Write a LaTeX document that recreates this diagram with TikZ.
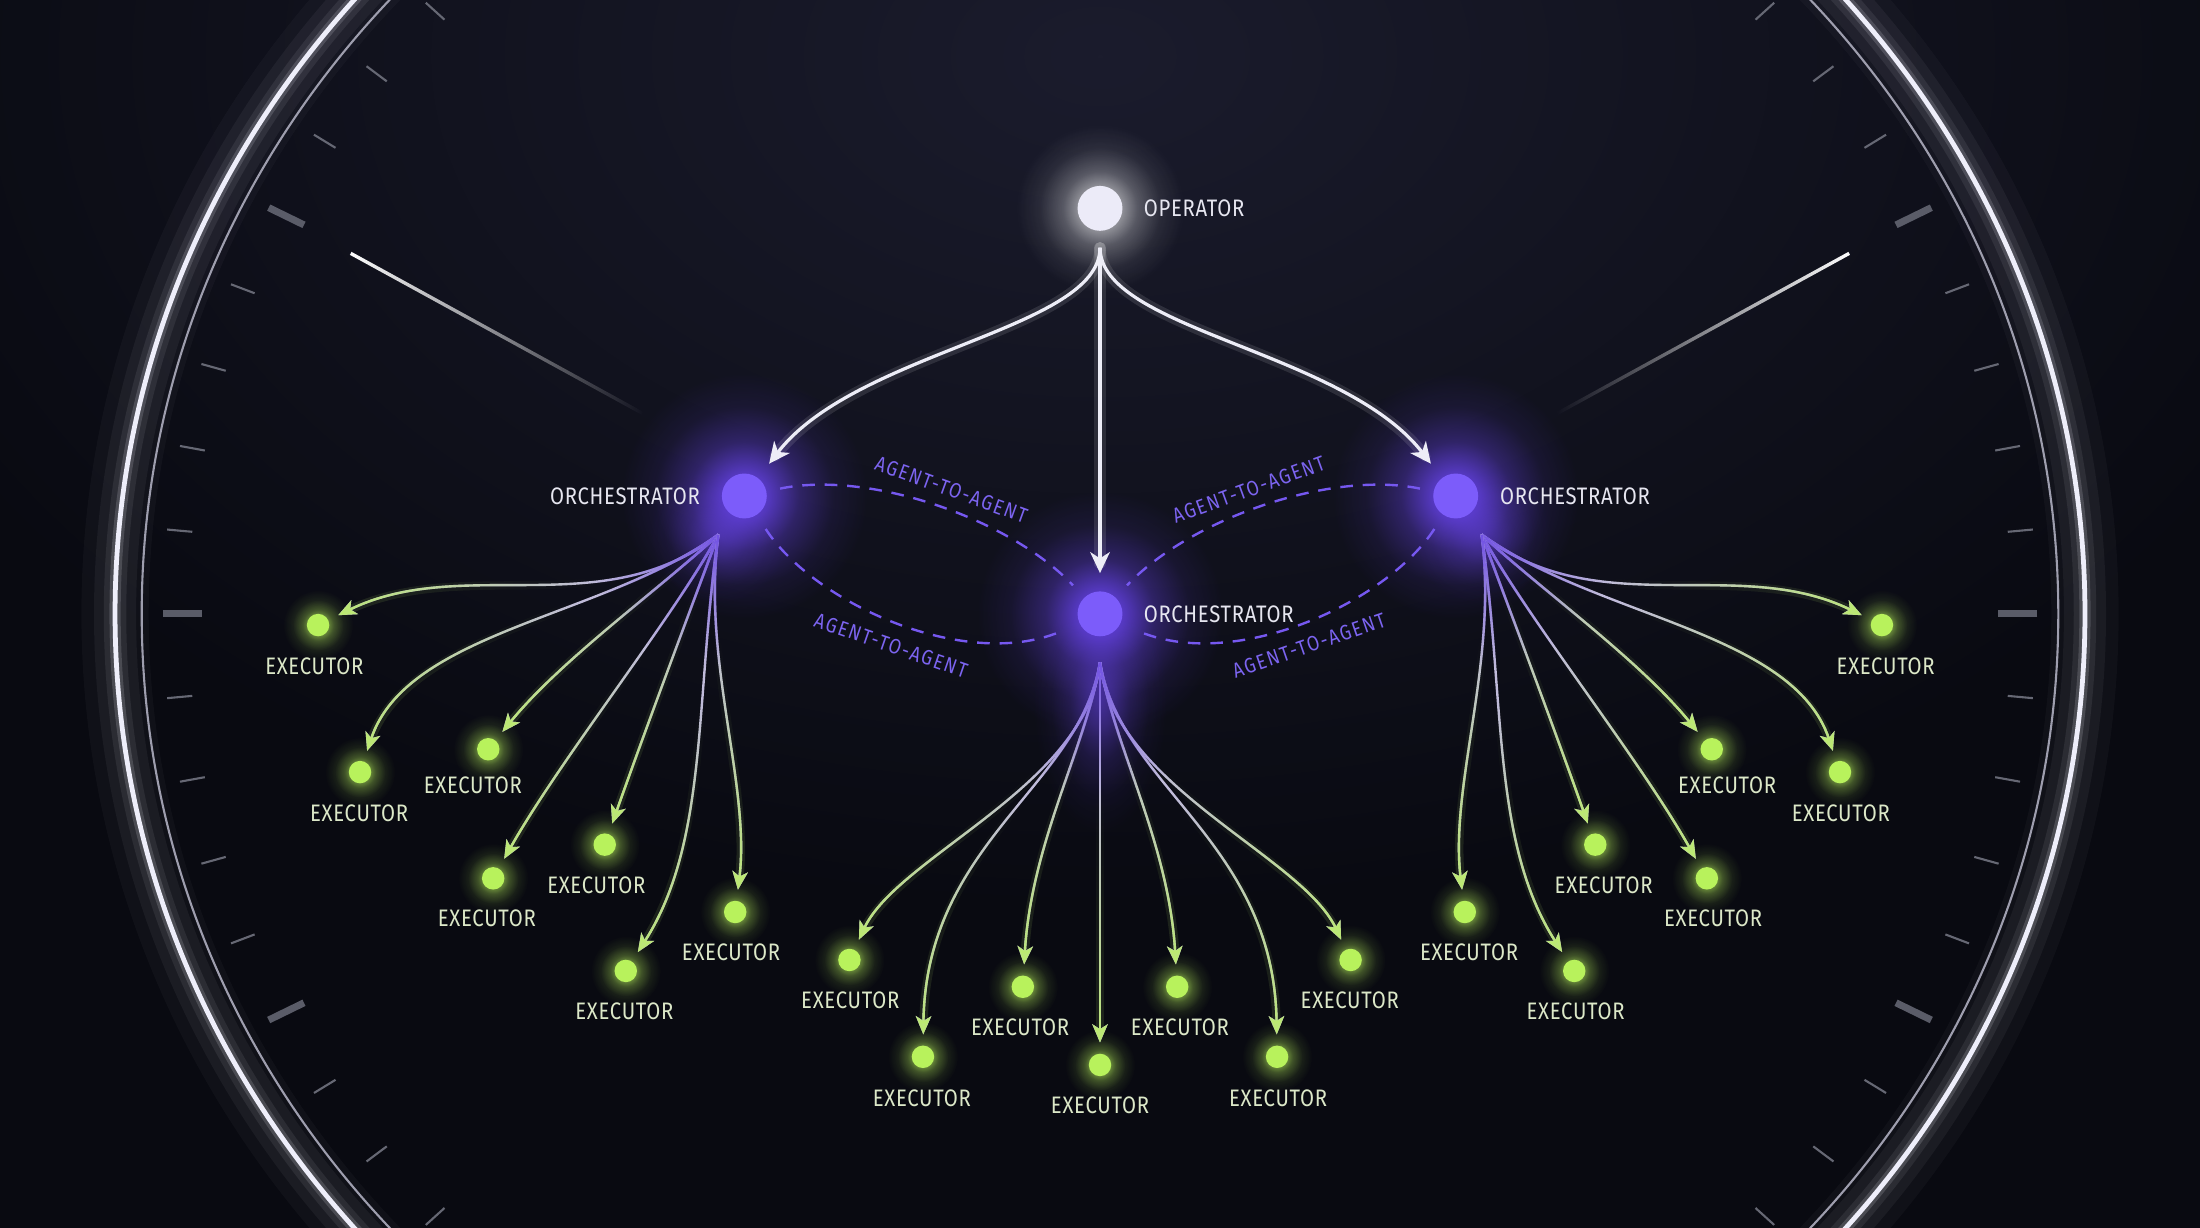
\documentclass[tikz,border=0pt]{standalone}
\usepackage{fontspec}
\usetikzlibrary{arrows.meta,calc,fadings}
\newfontfamily\lblfont{Fira Sans}[FakeStretch=0.85,LetterSpace=3]
\newfontfamily\agentfont{Fira Sans}[FakeStretch=0.85,LetterSpace=8]

\definecolor{bgc}{HTML}{090A11}
\definecolor{bgtop}{HTML}{1B1C2D}
\definecolor{ringc}{HTML}{EEEEFA}
\definecolor{ringin}{HTML}{9E9EAE}
\definecolor{tickc}{HTML}{666874}
\definecolor{tickmaj}{HTML}{5A5C68}
\definecolor{opfill}{HTML}{ECEBF8}
\definecolor{orchfill}{HTML}{7C5CFA}
\definecolor{orchglow}{HTML}{6A45F0}
\definecolor{dashc}{HTML}{7658F0}
\definecolor{agentc}{HTML}{7C64F0}
\definecolor{execfill}{HTML}{B8F25C}
\definecolor{execlbl}{HTML}{DCE8C8}
\definecolor{lblc}{HTML}{E6E6F0}
\definecolor{lav}{HTML}{C0BBDA}
\definecolor{limec}{HTML}{BCEB70}
\definecolor{purc}{HTML}{7252E4}
\definecolor{warr}{HTML}{EDEDF7}

\pgfdeclareradialshading{linshade}{\pgfpointorigin}{color(0bp)=(white); color(25bp)=(black); color(50bp)=(black)}
\pgfdeclarefading{linfade}{\pgfuseshading{linshade}}
\pgfdeclareradialshading{glowshade}{\pgfpointorigin}{color(0bp)=(white); color(5bp)=(white!75!black); color(11bp)=(white!35!black); color(18bp)=(white!10!black); color(25bp)=(black); color(50bp)=(black)}
\pgfdeclarefading{glowfade}{\pgfuseshading{glowshade}}
\pgfdeclarehorizontalshading{hshadeR}{100bp}{color(0bp)=(white); color(25bp)=(white); color(75bp)=(black); color(100bp)=(black)}
\pgfdeclarefading{fadeR}{\pgfuseshading{hshadeR}}
\pgfdeclarehorizontalshading{hshadeL}{100bp}{color(0bp)=(black); color(25bp)=(black); color(75bp)=(white); color(100bp)=(white)}
\pgfdeclarefading{fadeL}{\pgfuseshading{hshadeL}}

\pgfdeclarelayer{back}
\pgfdeclarelayer{glow}
\pgfdeclarelayer{edges}
\pgfsetlayers{back,glow,edges,main}

\tikzset{
 orch/.style={circle, fill=orchfill, minimum size=32pt, inner sep=0pt, outer sep=0pt},
 opnode/.style={circle, fill=opfill, minimum size=32pt, inner sep=0pt, outer sep=0pt},
 execnode/.style={circle, fill=execfill, minimum size=16pt, inner sep=0pt, outer sep=0pt},
 lbl/.style={text=lblc, font=\lblfont\fontsize{17}{17}\selectfont, inner sep=0pt},
 elbl/.style={text=execlbl, font=\lblfont\fontsize{17}{17}\selectfont, inner sep=0pt},
 agent/.style={text=agentc, font=\agentfont\fontsize{15}{15}\selectfont, inner sep=0pt},
 a2a/.style={draw=dashc, line width=1.7pt, dash pattern=on 9pt off 7pt},
 wline/.style={draw=warr, line width=2.3pt, -{Stealth[length=15pt,width=14pt,inset=4.5pt]}, shorten <=12pt, shorten >=13pt},
 wglowline/.style={draw=white, line width=8pt, opacity=0.11, shorten <=12pt, shorten >=20pt, line cap=round},
 cbase/.style={draw=lav, line width=1.7pt, shorten >=8pt, -{Stealth[length=13pt,width=11pt,inset=3.5pt]}},
 cgreen/.style={draw=limec, line width=1.7pt, shorten >=8pt, -{Stealth[length=13pt,width=11pt,inset=3.5pt]}, path fading=linfade, fit fading=false},
 cpurple/.style={draw=purc, line width=1.9pt, path fading=linfade, fit fading=false},
 cglow/.style={draw=limec, line width=6pt, opacity=0.14, shorten >=14pt, path fading=linfade, fit fading=false},
}

\newcommand\fanedge[4]{%
 \draw[cglow, fading transform={shift={(#4)},scale=8.0}] (#1) .. controls (#2) and (#3) .. (#4);
 \draw[cbase] (#1) .. controls (#2) and (#3) .. (#4);
 \draw[cgreen, fading transform={shift={(#4)},scale=8.0}] (#1) .. controls (#2) and (#3) .. (#4);
 \draw[cpurple, fading transform={shift={(#1)},scale=3.8}] (#1) .. controls (#2) and (#3) .. (#4);
}
\newcommand\opedge[4]{%
 \draw[wglowline] (#1) .. controls (#2) and (#3) .. (#4);
 \draw[wline] (#1) .. controls (#2) and (#3) .. (#4);
}

\begin{document}
\begin{tikzpicture}[x=1pt,y=-1pt]
\useasboundingbox (0,0) rectangle (1568,875);
\coordinate (C) at (784,437.5);

% ---------- nodes ----------
\node[opnode] (op) at (784,148.5) {};
\node[orch] (lo) at (530.5,353.5) {};
\node[orch] (co) at (784,437.5) {};
\node[orch] (ro) at (1037.5,353.5) {};
\node[lbl, anchor=west] (opt) at (815,148.5) {OPERATOR};
\node[lbl, anchor=east] (lot) at (499,353.5) {ORCHESTRATOR};
\node[lbl, anchor=west] (cot) at (815,437.5) {ORCHESTRATOR};
\node[lbl, anchor=west] (rot) at (1069,353.5) {ORCHESTRATOR};

\coordinate (ls) at (512,381);
\coordinate (cs) at (784,472);
\coordinate (rs) at (1056,381);

\node[execnode] (l1) at (226.7,445.5) {};
\node[execnode] (l2) at (256.6,550.3) {};
\node[execnode] (l3) at (348,534) {};
\node[execnode] (l4) at (351.5,626) {};
\node[execnode] (l5) at (431,602) {};
\node[execnode] (l6) at (446,692) {};
\node[execnode] (l7) at (524,650) {};
\node[execnode] (c1) at (605.4,684.2) {};
\node[execnode] (c2) at (657.8,753.2) {};
\node[execnode] (c3) at (729,703.3) {};
\node[execnode] (c4) at (784,759) {};
\node[execnode] (c5) at (839,703.3) {};
\node[execnode] (c6) at (910.2,753.2) {};
\node[execnode] (c7) at (962.6,684.2) {};
\node[execnode] (r1) at (1341.3,445.5) {};
\node[execnode] (r2) at (1311.4,550.3) {};
\node[execnode] (r3) at (1220,534) {};
\node[execnode] (r4) at (1216.5,626) {};
\node[execnode] (r5) at (1137,602) {};
\node[execnode] (r6) at (1122,692) {};
\node[execnode] (r7) at (1044,650) {};

\node[elbl] (l1t) at (224,475) {EXECUTOR};
\node[elbl] (l2t) at (256,579.5) {EXECUTOR};
\node[elbl] (l3t) at (337,559.5) {EXECUTOR};
\node[elbl] (l4t) at (347,654.3) {EXECUTOR};
\node[elbl] (l5t) at (425,630.8) {EXECUTOR};
\node[elbl] (l6t) at (445,720.5) {EXECUTOR};
\node[elbl] (l7t) at (521,678.5) {EXECUTOR};
\node[elbl] (c1t) at (606,712.7) {EXECUTOR};
\node[elbl] (c2t) at (657,782.8) {EXECUTOR};
\node[elbl] (c3t) at (727,732) {EXECUTOR};
\node[elbl] (c4t) at (784,787.6) {EXECUTOR};
\node[elbl] (c5t) at (841,732) {EXECUTOR};
\node[elbl] (c6t) at (911,782.8) {EXECUTOR};
\node[elbl] (c7t) at (962,712.7) {EXECUTOR};
\node[elbl] (r1t) at (1344,475) {EXECUTOR};
\node[elbl] (r2t) at (1312,579.5) {EXECUTOR};
\node[elbl] (r3t) at (1231,559.5) {EXECUTOR};
\node[elbl] (r4t) at (1221,654.3) {EXECUTOR};
\node[elbl] (r5t) at (1143,630.8) {EXECUTOR};
\node[elbl] (r6t) at (1123,720.5) {EXECUTOR};
\node[elbl] (r7t) at (1047,678.5) {EXECUTOR};

\node[agent, rotate=-20] (a1) at (678,349) {AGENT-TO-AGENT};
\node[agent, rotate=-19] (a2) at (635,460) {AGENT-TO-AGENT};
\node[agent, rotate=20] (a3) at (890,349) {AGENT-TO-AGENT};
\node[agent, rotate=19] (a4) at (933,460) {AGENT-TO-AGENT};

% ---------- background, dial ----------
\begin{pgfonlayer}{back}
 \fill[bgc] (0,0) rectangle (1568,875);
 \fill[bgtop, path fading=linfade] (784,40) ellipse (950pt and 620pt);
 \foreach \w/\o in {48/0.03,30/0.05,16/0.08,8/0.16}
   \draw[ringc, line width=\w pt, opacity=\o] (C) ellipse (702pt and 670pt);
 \draw[ringc, line width=3.4pt] (C) ellipse (702pt and 670pt);
 \draw[ringin, line width=1.5pt] (C) ellipse (683pt and 652pt);
 \foreach \t in {174.5,169,163.5,158,147,141.5,136,185.5,191,196.5,202,213,218.5,224,5.5,11,16.5,22,33,38.5,44,-5.5,-11,-16.5,-22,-33,-38.5,-44}{
   \coordinate (tp) at ({784+668*cos(\t)},{437.5-627*sin(\t)});
   \draw[tickc, line width=1.5pt] (tp) -- ($(tp)!18pt!(C)$);
 }
 \foreach \t in {180,152.5,207.5,0,27.5,-27.5}{
   \coordinate (tq) at ({784+668*cos(\t)},{437.5-627*sin(\t)});
   \draw[tickmaj, line width=5pt] (tq) -- ($(tq)!28pt!(C)$);
 }
 \coordinate (hl1) at (250,180.6);
 \coordinate (hl2) at (458,294.6);
 \coordinate (hr1) at (1318,180.6);
 \coordinate (hr2) at (1110,294.6);
 \draw[white, line width=2.4pt, path fading=fadeR] (hl1) -- (hl2);
 \draw[white, line width=2.4pt, path fading=fadeL] (hr1) -- (hr2);
\end{pgfonlayer}

% ---------- glows ----------
\begin{pgfonlayer}{glow}
 \fill[white, path fading=glowfade, fill opacity=0.8] (op) circle (60);
 \foreach \n in {lo,ro,co}
   \fill[orchglow, path fading=glowfade, fill opacity=1] (\n) circle (88);
 \fill[orchglow, path fading=glowfade, fill opacity=0.55] (784,500) ellipse (48pt and 95pt);
 \fill[orchglow, path fading=glowfade, fill opacity=0.45] (ls) circle (50);
 \fill[orchglow, path fading=glowfade, fill opacity=0.45] (rs) circle (50);
 \foreach \n in {l1,l2,l3,l4,l5,l6,l7,c1,c2,c3,c4,c5,c6,c7,r1,r2,r3,r4,r5,r6,r7}
   \fill[execfill, path fading=glowfade, fill opacity=0.9] (\n) circle (25);
\end{pgfonlayer}

% ---------- edges ----------
\begin{pgfonlayer}{edges}
 \draw[a2a, shorten <=10pt, shorten >=12pt] (lo) .. controls (620,335) and (720,370) .. (co);
 \draw[a2a, shorten <=12pt, shorten >=12pt] (lo) .. controls (580,430) and (690,480) .. (co);
 \draw[a2a, shorten <=10pt, shorten >=12pt] (ro) .. controls (948,335) and (848,370) .. (co);
 \draw[a2a, shorten <=12pt, shorten >=12pt] (ro) .. controls (988,430) and (878,480) .. (co);

 \fanedge{ls}{430,445}{330,395}{l1}
 \fanedge{ls}{430,440}{290,450}{l2}
 \fanedge{ls}{470,420}{400,470}{l3}
 \fanedge{ls}{480,440}{400,540}{l4}
 \fanedge{ls}{490,440}{460,520}{l5}
 \fanedge{ls}{495,500}{505,600}{l6}
 \fanedge{ls}{500,470}{535,560}{l7}
 \fanedge{cs}{775,560}{640,610}{c1}
 \fanedge{cs}{770,560}{660,600}{c2}
 \fanedge{cs}{775,530}{735,600}{c3}
 \fanedge{cs}{784,560}{784,650}{c4}
 \fanedge{cs}{793,530}{833,600}{c5}
 \fanedge{cs}{798,560}{908,600}{c6}
 \fanedge{cs}{793,560}{928,610}{c7}
 \fanedge{rs}{1138,445}{1238,395}{r1}
 \fanedge{rs}{1138,440}{1278,450}{r2}
 \fanedge{rs}{1098,420}{1168,470}{r3}
 \fanedge{rs}{1088,440}{1168,540}{r4}
 \fanedge{rs}{1078,440}{1108,520}{r5}
 \fanedge{rs}{1073,500}{1063,600}{r6}
 \fanedge{rs}{1068,470}{1033,560}{r7}

 \opedge{op}{784,235}{610,250}{lo}
 \opedge{op}{784,250}{784,350}{co}
 \opedge{op}{784,235}{958,250}{ro}
\end{pgfonlayer}
\end{tikzpicture}
\end{document}
